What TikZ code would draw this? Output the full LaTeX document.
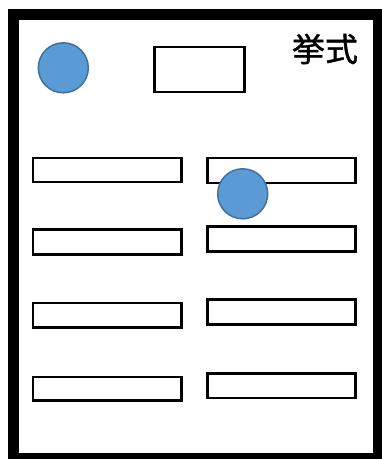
\documentclass[tikz,border=0pt]{standalone}
\usepackage{fontspec}
\newfontfamily\cjk[FakeBold=1.2]{Noto Sans CJK JP}
\definecolor{dotfill}{HTML}{5B9BD5}
\definecolor{dotline}{HTML}{41719C}
\begin{document}
\begin{tikzpicture}[x=1pt,y=-1pt,
  frame/.style={draw=black,line width=11pt},
  slot/.style={draw=black,line width=2.4pt,fill=white},
  dot/.style={draw=dotline,line width=1.5pt,fill=dotfill},
  label/.style={font=\cjk\fontsize{33}{36}\selectfont,inner sep=0pt}]
\useasboundingbox (0,0) rectangle (382,459);
\fill[white] (0,0) rectangle (382,459);
\draw[frame] (13.5,14.5) rectangle (378.5,458.5);
\draw[slot] (154.5,47) rectangle (244.5,92);
\node[label] (title) at (325,49) {挙式};
\draw[slot] (33,158) rectangle (181.5,182);
\draw[slot] (33,229.5) rectangle (181.5,254.5);
\draw[slot] (33,303) rectangle (181.5,327.5);
\draw[slot] (33,377) rectangle (181.5,400.5);
\draw[slot] (207.5,158) rectangle (355.5,183);
\draw[slot] (207.5,226.5) rectangle (355.5,251.5);
\draw[slot] (207.5,299.5) rectangle (355.5,324.5);
\draw[slot] (207.5,373.5) rectangle (355.5,398);
\node[dot,circle,minimum size=50pt,inner sep=0pt] (d1) at (63.3,67.8) {};
\node[dot,circle,minimum size=50pt,inner sep=0pt] (d2) at (242.7,193.8) {};
\end{tikzpicture}
\end{document}
